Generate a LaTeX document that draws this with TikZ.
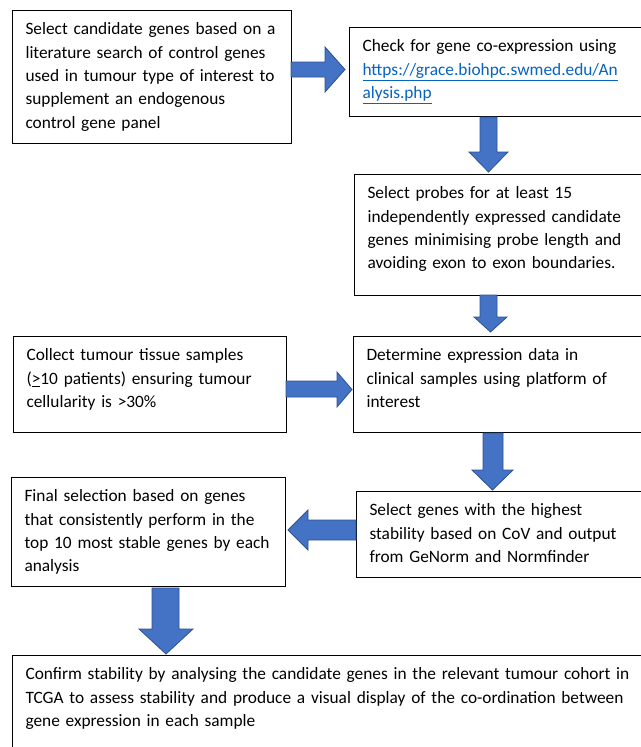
\documentclass[tikz,border=0pt]{standalone}
\usepackage{fontspec}
\setmainfont{Carlito}

\definecolor{arrowblue}{HTML}{4472C4}
\definecolor{arrowedge}{HTML}{2F528F}
\definecolor{linkblue}{HTML}{0563C1}
\newcommand{\weblink}[1]{\textcolor{linkblue}{\underline{#1}}}

\tikzset{
  box/.style={draw, line width=0.8pt, anchor=north west, align=left,
    inner ysep=0pt, inner xsep=9.75pt, text height=18pt,
    font=\fontsize{13pt}{17.6pt}\selectfont},
  fatarrow/.style={fill=arrowblue, draw=arrowedge, line width=0.6pt, line join=miter},
}

\begin{document}
\begin{tikzpicture}[x=0.75pt, y=-0.75pt]
\useasboundingbox (0,0) rectangle (641,747);
\clip (0,0) rectangle (641,747);

% boxes
\node[box, text width=189.75pt, text depth=81.75pt] (cand) at (12,10)
  {Select candidate genes based on a\\ literature search of control genes\\
   used in tumour type of interest to\\ supplement an endogenous\\ control gene panel};
\node[box, text width=213.75pt, text depth=48.75pt] (coexp) at (349,27)
  {Check for gene co-expression using\\ \weblink{https://grace.biohpc.swmed.edu/An}\\
   \weblink{alysis.php}};
\node[box, text width=210pt, text depth=72.75pt] (probes) at (354,174)
  {Select probes for at least 15\\ independently expressed candidate\\
   genes minimising probe length and\\ avoiding exon to exon boundaries.};
\node[box, text width=210.75pt, text depth=54pt] (expr) at (353,336)
  {Determine expression data in\\ clinical samples using platform of\\ interest};
\node[box, text width=185.25pt, text depth=54pt] (collect) at (13,336)
  {Collect tumour tissue samples\\ (\underline{>}10 patients) ensuring tumour\\
   cellularity is >30\%};
\node[box, text width=208.5pt, text depth=46.5pt] (stab) at (356,491)
  {Select genes with the highest\\ stability based on CoV and output\\
   from GeNorm and Normfinder};
\node[box, text width=186pt, text depth=63.75pt] (final) at (11,477)
  {Final selection based on genes\\ that consistently perform in the\\
   top 10 most stable genes by each\\ analysis};
\node[box, text width=466.5pt, text depth=60.75pt] (confirm) at (12,655)
  {Confirm stability by analysing the candidate genes in the relevant tumour cohort in\\
   TCGA to assess stability and produce a visual display of the co-ordination between\\
   gene expression in each sample};

% block arrows
\draw[fatarrow] (291,62) -- (325,62) -- (325,47) -- (345,69.5) -- (325,92) -- (325,77) -- (291,77) -- cycle;
\draw[fatarrow] (480,117) -- (480,152) -- (469,152) -- (488.5,172) -- (508,152) -- (497,152) -- (497,117) -- cycle;
\draw[fatarrow] (480,295) -- (480,317) -- (474,317) -- (490.5,332) -- (507,317) -- (497,317) -- (497,295) -- cycle;
\draw[fatarrow] (286,381) -- (337,381) -- (337,372) -- (352,389.5) -- (337,407) -- (337,397) -- (286,397) -- cycle;
\draw[fatarrow] (483,433) -- (483,470) -- (472,470) -- (492.5,490) -- (513,470) -- (503,470) -- (503,433) -- cycle;
\draw[fatarrow] (356,520) -- (308,520) -- (308,510) -- (288,530) -- (308,550) -- (308,540) -- (356,540) -- cycle;
\draw[fatarrow] (152,588) -- (152,629) -- (139,629) -- (166,654) -- (193,629) -- (179,629) -- (179,588) -- cycle;
\end{tikzpicture}
\end{document}
